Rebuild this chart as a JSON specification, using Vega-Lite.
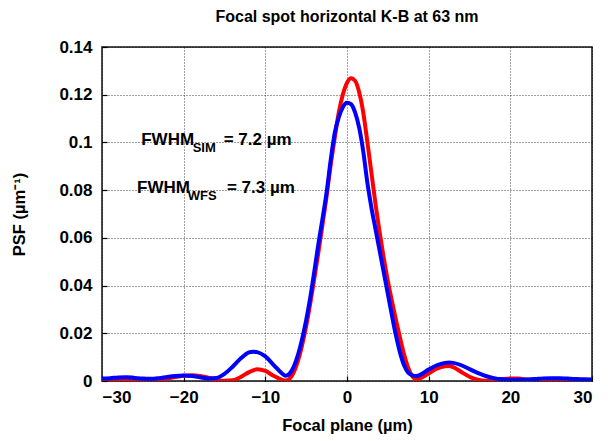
{
  "$schema": "https://vega.github.io/schema/vega-lite/v6.json",
  "autosize": "none",
  "width": 490,
  "height": 334,
  "padding": {"left": 102, "top": 47, "right": 16, "bottom": 60},
  "background": "white",
  "title": {
    "text": "Focal spot horizontal K-B at 63 nm",
    "font": "Liberation Sans",
    "fontSize": 16,
    "fontWeight": "bold",
    "color": "#000",
    "anchor": "middle",
    "baseline": "alphabetic",
    "offset": 0
  },
  "config": {
    "view": {"stroke": "#111", "strokeWidth": 1.5},
    "axis": {
      "labelFont": "Liberation Sans",
      "labelFontWeight": "bold",
      "labelFontSize": 17,
      "labelColor": "#000",
      "titleFont": "Liberation Sans",
      "titleFontWeight": "bold",
      "titleFontSize": 16.5,
      "titleColor": "#000",
      "domain": false,
      "ticks": true,
      "tickSize": -5,
      "tickColor": "#000",
      "tickWidth": 1.2,
      "grid": true,
      "gridColor": "#000",
      "gridOpacity": 0.75,
      "gridDash": [1, 2],
      "gridWidth": 1
    }
  },
  "datasets": {
    "psf": [
      {"x": -30, "v": 0.0006, "s": "SIM"}, {"x": -29, "v": 0.0004, "s": "SIM"}, {"x": -28, "v": 0.0002, "s": "SIM"},
      {"x": -27, "v": 0.0001, "s": "SIM"}, {"x": -26, "v": 0.0000, "s": "SIM"}, {"x": -25, "v": 0.0000, "s": "SIM"},
      {"x": -24, "v": 0.0001, "s": "SIM"}, {"x": -23, "v": 0.0004, "s": "SIM"}, {"x": -22, "v": 0.0010, "s": "SIM"},
      {"x": -21, "v": 0.0017, "s": "SIM"}, {"x": -20, "v": 0.0022, "s": "SIM"}, {"x": -19, "v": 0.0024, "s": "SIM"},
      {"x": -18, "v": 0.0021, "s": "SIM"}, {"x": -17, "v": 0.0014, "s": "SIM"}, {"x": -16, "v": 0.0006, "s": "SIM"},
      {"x": -15, "v": 0.0001, "s": "SIM"}, {"x": -14, "v": 0.0003, "s": "SIM"}, {"x": -13, "v": 0.0017, "s": "SIM"},
      {"x": -12, "v": 0.0037, "s": "SIM"}, {"x": -11, "v": 0.0049, "s": "SIM"}, {"x": -10, "v": 0.0042, "s": "SIM"},
      {"x": -9, "v": 0.0022, "s": "SIM"}, {"x": -8, "v": 0.0006, "s": "SIM"}, {"x": -7.5, "v": 0.0002, "s": "SIM"},
      {"x": -7, "v": 0.0010, "s": "SIM"}, {"x": -6.5, "v": 0.0038, "s": "SIM"}, {"x": -6, "v": 0.0085, "s": "SIM"},
      {"x": -5.5, "v": 0.0150, "s": "SIM"}, {"x": -5, "v": 0.0230, "s": "SIM"}, {"x": -4.5, "v": 0.0325, "s": "SIM"},
      {"x": -4, "v": 0.0430, "s": "SIM"}, {"x": -3.5, "v": 0.0540, "s": "SIM"}, {"x": -3, "v": 0.0655, "s": "SIM"},
      {"x": -2.5, "v": 0.0775, "s": "SIM"}, {"x": -2, "v": 0.0905, "s": "SIM"}, {"x": -1.5, "v": 0.1020, "s": "SIM"},
      {"x": -1, "v": 0.1127, "s": "SIM"}, {"x": -0.5, "v": 0.1202, "s": "SIM"}, {"x": 0, "v": 0.1250, "s": "SIM"},
      {"x": 0.5, "v": 0.1269, "s": "SIM"}, {"x": 1, "v": 0.1258, "s": "SIM"}, {"x": 1.5, "v": 0.1209, "s": "SIM"},
      {"x": 2, "v": 0.1123, "s": "SIM"}, {"x": 2.5, "v": 0.1000, "s": "SIM"}, {"x": 3, "v": 0.0870, "s": "SIM"},
      {"x": 3.5, "v": 0.0740, "s": "SIM"}, {"x": 4, "v": 0.0622, "s": "SIM"}, {"x": 4.5, "v": 0.0515, "s": "SIM"},
      {"x": 5, "v": 0.0420, "s": "SIM"}, {"x": 5.5, "v": 0.0335, "s": "SIM"}, {"x": 6, "v": 0.0255, "s": "SIM"},
      {"x": 6.5, "v": 0.0180, "s": "SIM"}, {"x": 7, "v": 0.0110, "s": "SIM"}, {"x": 7.5, "v": 0.0055, "s": "SIM"},
      {"x": 8, "v": 0.0020, "s": "SIM"}, {"x": 8.5, "v": 0.0008, "s": "SIM"}, {"x": 9, "v": 0.0012, "s": "SIM"},
      {"x": 10, "v": 0.0032, "s": "SIM"}, {"x": 11, "v": 0.0052, "s": "SIM"}, {"x": 12, "v": 0.0062, "s": "SIM"},
      {"x": 12.5, "v": 0.0063, "s": "SIM"}, {"x": 13, "v": 0.0058, "s": "SIM"}, {"x": 14, "v": 0.0038, "s": "SIM"},
      {"x": 15, "v": 0.0018, "s": "SIM"}, {"x": 16, "v": 0.0005, "s": "SIM"}, {"x": 17, "v": 0.0001, "s": "SIM"},
      {"x": 18, "v": 0.0003, "s": "SIM"}, {"x": 19, "v": 0.0008, "s": "SIM"}, {"x": 20, "v": 0.0011, "s": "SIM"},
      {"x": 21, "v": 0.0010, "s": "SIM"}, {"x": 22, "v": 0.0006, "s": "SIM"}, {"x": 23, "v": 0.0002, "s": "SIM"},
      {"x": 24, "v": 0.0000, "s": "SIM"}, {"x": 25, "v": 0.0001, "s": "SIM"}, {"x": 26, "v": 0.0003, "s": "SIM"},
      {"x": 27, "v": 0.0005, "s": "SIM"}, {"x": 28, "v": 0.0005, "s": "SIM"}, {"x": 29, "v": 0.0004, "s": "SIM"},
      {"x": 30, "v": 0.0003, "s": "SIM"},

      {"x": -30, "v": 0.0010, "s": "WFS"}, {"x": -29, "v": 0.0012, "s": "WFS"}, {"x": -28, "v": 0.0015, "s": "WFS"},
      {"x": -27, "v": 0.0016, "s": "WFS"}, {"x": -26, "v": 0.0013, "s": "WFS"}, {"x": -25, "v": 0.0010, "s": "WFS"},
      {"x": -24, "v": 0.0009, "s": "WFS"}, {"x": -23, "v": 0.0012, "s": "WFS"}, {"x": -22, "v": 0.0017, "s": "WFS"},
      {"x": -21, "v": 0.0021, "s": "WFS"}, {"x": -20, "v": 0.0023, "s": "WFS"}, {"x": -19, "v": 0.0021, "s": "WFS"},
      {"x": -18, "v": 0.0016, "s": "WFS"}, {"x": -17, "v": 0.0011, "s": "WFS"}, {"x": -16, "v": 0.0013, "s": "WFS"},
      {"x": -15, "v": 0.0030, "s": "WFS"}, {"x": -14, "v": 0.0060, "s": "WFS"}, {"x": -13, "v": 0.0095, "s": "WFS"},
      {"x": -12, "v": 0.0120, "s": "WFS"}, {"x": -11.5, "v": 0.0123, "s": "WFS"}, {"x": -11, "v": 0.0121, "s": "WFS"},
      {"x": -10, "v": 0.0103, "s": "WFS"}, {"x": -9, "v": 0.0068, "s": "WFS"}, {"x": -8, "v": 0.0033, "s": "WFS"},
      {"x": -7.5, "v": 0.0022, "s": "WFS"}, {"x": -7, "v": 0.0032, "s": "WFS"}, {"x": -6.5, "v": 0.0062, "s": "WFS"},
      {"x": -6, "v": 0.0110, "s": "WFS"}, {"x": -5.5, "v": 0.0175, "s": "WFS"}, {"x": -5, "v": 0.0255, "s": "WFS"},
      {"x": -4.5, "v": 0.0350, "s": "WFS"}, {"x": -4, "v": 0.0460, "s": "WFS"}, {"x": -3.5, "v": 0.0575, "s": "WFS"},
      {"x": -3, "v": 0.0680, "s": "WFS"}, {"x": -2.5, "v": 0.0790, "s": "WFS"}, {"x": -2, "v": 0.0925, "s": "WFS"},
      {"x": -1.5, "v": 0.1040, "s": "WFS"}, {"x": -1, "v": 0.1106, "s": "WFS"}, {"x": -0.5, "v": 0.1148, "s": "WFS"},
      {"x": 0, "v": 0.1166, "s": "WFS"}, {"x": 0.5, "v": 0.1160, "s": "WFS"}, {"x": 1, "v": 0.1125, "s": "WFS"},
      {"x": 1.5, "v": 0.1060, "s": "WFS"}, {"x": 2, "v": 0.0960, "s": "WFS"}, {"x": 2.5, "v": 0.0830, "s": "WFS"},
      {"x": 3, "v": 0.0725, "s": "WFS"}, {"x": 3.5, "v": 0.0635, "s": "WFS"}, {"x": 4, "v": 0.0545, "s": "WFS"},
      {"x": 4.5, "v": 0.0455, "s": "WFS"}, {"x": 5, "v": 0.0365, "s": "WFS"}, {"x": 5.5, "v": 0.0275, "s": "WFS"},
      {"x": 6, "v": 0.0190, "s": "WFS"}, {"x": 6.5, "v": 0.0118, "s": "WFS"}, {"x": 7, "v": 0.0065, "s": "WFS"},
      {"x": 7.5, "v": 0.0035, "s": "WFS"}, {"x": 8, "v": 0.0024, "s": "WFS"}, {"x": 8.5, "v": 0.0021, "s": "WFS"},
      {"x": 9, "v": 0.0027, "s": "WFS"}, {"x": 10, "v": 0.0048, "s": "WFS"}, {"x": 11, "v": 0.0066, "s": "WFS"},
      {"x": 12, "v": 0.0076, "s": "WFS"}, {"x": 12.5, "v": 0.0078, "s": "WFS"}, {"x": 13, "v": 0.0076, "s": "WFS"},
      {"x": 14, "v": 0.0066, "s": "WFS"}, {"x": 15, "v": 0.0050, "s": "WFS"}, {"x": 16, "v": 0.0034, "s": "WFS"},
      {"x": 17, "v": 0.0021, "s": "WFS"}, {"x": 18, "v": 0.0012, "s": "WFS"}, {"x": 19, "v": 0.0007, "s": "WFS"},
      {"x": 20, "v": 0.0005, "s": "WFS"}, {"x": 21, "v": 0.0005, "s": "WFS"}, {"x": 22, "v": 0.0006, "s": "WFS"},
      {"x": 23, "v": 0.0008, "s": "WFS"}, {"x": 24, "v": 0.0011, "s": "WFS"}, {"x": 25, "v": 0.0012, "s": "WFS"},
      {"x": 26, "v": 0.0012, "s": "WFS"}, {"x": 27, "v": 0.0010, "s": "WFS"}, {"x": 28, "v": 0.0008, "s": "WFS"},
      {"x": 29, "v": 0.0007, "s": "WFS"}, {"x": 30, "v": 0.0006, "s": "WFS"}
    ],
    "notes": [
      {"x": -25.2, "y": 0.1, "t": "FWHM", "k": "main"},
      {"x": -18.9, "y": 0.1, "t": "SIM", "k": "sub"},
      {"x": -15.1, "y": 0.1, "t": "= 7.2 µm", "k": "main"},
      {"x": -25.7, "y": 0.08, "t": "FWHM", "k": "main"},
      {"x": -19.5, "y": 0.08, "t": "WFS", "k": "sub"},
      {"x": -14.7, "y": 0.08, "t": "= 7.3 µm", "k": "main"}
    ]
  },
  "layer": [
    {
      "data": {"name": "psf"},
      "mark": {"type": "line", "strokeWidth": 4, "interpolate": "monotone", "clip": true},
      "encoding": {
        "x": {
          "field": "x", "type": "quantitative",
          "scale": {"domain": [-30, 30], "nice": false},
          "axis": {"values": [-30, -20, -10, 0, 10, 20, 30], "title": "Focal plane (µm)", "labelPadding": 13, "titlePadding": 12}
        },
        "y": {
          "field": "v", "type": "quantitative",
          "scale": {"domain": [0, 0.14], "nice": false, "zero": false},
          "axis": {"values": [0, 0.02, 0.04, 0.06, 0.08, 0.1, 0.12, 0.14], "format": "~g", "title": "PSF (µm⁻¹)", "labelPadding": 15, "titlePadding": 31}
        },
        "color": {
          "field": "s", "type": "nominal",
          "scale": {"domain": ["SIM", "WFS"], "range": ["#ff0000", "#0000ff"]},
          "legend": null
        }
      }
    },
    {
      "data": {"name": "notes"},
      "transform": [{"filter": "datum.k === 'main'"}],
      "mark": {"type": "text", "align": "left", "baseline": "middle", "dy": -2, "font": "Liberation Sans", "fontWeight": "bold", "fontSize": 17, "color": "#000"},
      "encoding": {
        "x": {"field": "x", "type": "quantitative"},
        "y": {"field": "y", "type": "quantitative"},
        "text": {"field": "t"}
      }
    },
    {
      "data": {"name": "notes"},
      "transform": [{"filter": "datum.k === 'sub'"}],
      "mark": {"type": "text", "align": "left", "baseline": "middle", "dy": 6, "font": "Liberation Sans", "fontWeight": "bold", "fontSize": 13, "color": "#000"},
      "encoding": {
        "x": {"field": "x", "type": "quantitative"},
        "y": {"field": "y", "type": "quantitative"},
        "text": {"field": "t"}
      }
    }
  ]
}
